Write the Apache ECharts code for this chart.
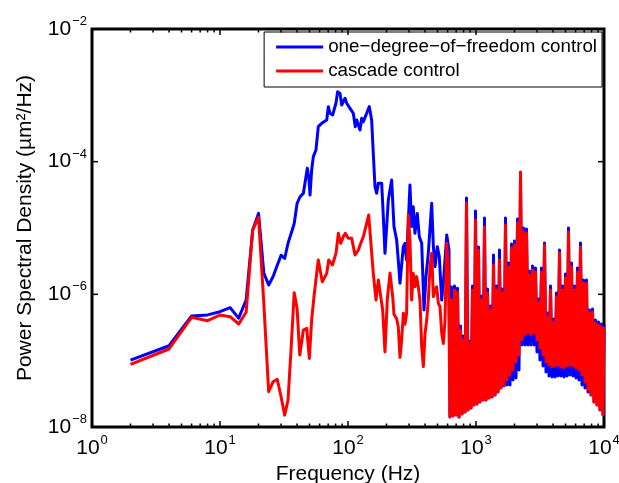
<!DOCTYPE html>
<html><head><meta charset="utf-8">
<script src="https://cdn.jsdelivr.net/npm/echarts@6/dist/echarts.min.js"></script>
<style>html,body{margin:0;padding:0;background:#fff}#c{width:619px;height:483px}</style>
</head><body><div id="c"></div>
<script>
const seriesNames = ['one\u2212degree\u2212of\u2212freedom control', 'cascade control'];
const xTickValues = [1, 10, 100, 1000, 10000];
const xTickSup = ['0', '1', '2', '3', '4'];
const yTickValues = [1e-8, 1e-6, 1e-4, 1e-2];
const yTickSup = ['\u22128', '\u22126', '\u22124', '\u22122'];
const xMinorTicks = [2,3,4,5,6,7,8,9,20,30,40,50,60,70,80,90,200,300,400,500,600,700,800,900,2000,3000,4000,5000,6000,7000,8000,9000];

// one-degree-of-freedom control (blue), low/mid frequencies
const blueFreq = [
  2,4,6,8,10,12,14,16,18,20,
  22,24,26,28,30,32,34,36,38,40,
  42.2,44.8,46.1,48.1,49.6,50.5,52,53.6,56.2,58.6,
  62.3,68.2,70.2,72.3,75.9,80.5,83,86.6,89.3,91.9,
  94.8,97.7,100.5,103.7,110,114,117,120.5,124.2,128,
  131.8,140,146.7,153,157.6,162.5,167.5,172.6,177.8,183.3,
  188.8,194.5,206.5,219.3,228.7,240,247,254.8,270.5,278.6,
  287,304.8,314,323.6,333.4,347.7,360.5,376.5,392.5,406.6,
  424,450.7,464.5,478.6,498.8,516.8,539.5,556,590.6,615];
const bluePsd = [
  1.02e-7,1.68e-7,4.71e-7,4.90e-7,5.47e-7,6.31e-7,4.37e-7,8.20e-7,9.33e-6,1.66e-5,
  2.09e-6,1.38e-6,1.86e-6,2.75e-6,3.89e-6,3.47e-6,5.89e-6,8.32e-6,1.17e-5,2.34e-5,
  2.96e-5,3.33e-5,4.71e-5,7.94e-5,5.28e-5,3.14e-5,7.48e-5,1.19e-4,1.50e-4,3.37e-4,
  3.78e-4,4.25e-4,6.75e-4,5.36e-4,5.06e-4,7.59e-4,1.135e-3,1.07e-3,7.14e-4,8.02e-4,
  9.02e-4,7.59e-4,8.02e-4,6.37e-4,5.36e-4,3.37e-4,4.25e-4,4.50e-4,3.00e-4,4.50e-4,
  4.01e-4,5.36e-4,6.75e-4,4.25e-4,1.34e-4,4.20e-5,3.33e-5,4.71e-5,4.47e-5,4.71e-5,
  1.48e-5,4.15e-6,2.64e-5,5.28e-5,1.05e-5,6.59e-6,3.29e-6,1.47e-6,5.22e-6,5.87e-6,
  3.29e-6,4.45e-5,1.05e-5,2.09e-5,8.32e-6,1.66e-5,7.40e-6,5.87e-6,5.81e-7,1.85e-6,
  4.15e-6,2.36e-5,5.22e-6,2.61e-6,5.22e-6,3.69e-6,8.20e-7,1.47e-6,7.83e-6,4.66e-6];

// cascade control (red), low/mid frequencies
const redFreq = [
  2,4,6,8,10,12,14,16,18,20,
  22,24,26,28,30,32,34,36,38,40,
  42,44.8,47.6,49.9,52,54.2,58.6,63,68.2,70.7,
  75.5,80.6,84,87.7,91.9,95.3,100.5,106.9,113.4,120.5,
  125.7,131.8,140,145.1,157.6,165.5,172.6,177.8,186.6,194.5,
  203,213,223.4,228.7,240,247,254.8,262.6,270.5,278.6,
  287,296,304.8,314,323.6,333.4,344,354,365,376.5,
  387.6,400,412,424,437.3,450.7,464.5,478.6,493,508,
  523.4,539.5,556,572.7,590.6,608.5];
const redPsd = [
  8.81e-8,1.50e-7,4.50e-7,4.00e-7,4.88e-7,4.60e-7,3.57e-7,5.36e-7,9.33e-6,1.45e-5,
  7.24e-7,3.40e-8,4.82e-8,5.25e-8,2.86e-8,1.51e-8,2.55e-8,1.62e-7,1.06e-6,6.15e-7,
  1.22e-7,2.90e-7,3.07e-7,1.08e-7,4.10e-7,9.20e-7,3.29e-6,1.55e-6,2.07e-6,3.29e-6,
  2.77e-6,4.15e-6,8.32e-6,5.87e-6,7.41e-6,8.32e-6,6.98e-6,6.98e-6,3.92e-6,4.66e-6,
  5.87e-6,7.40e-6,1.18e-5,1.57e-5,2.07e-6,8.20e-7,1.64e-6,1.55e-6,5.81e-7,1.36e-7,
  8.71e-7,2.09e-6,9.20e-7,5.01e-7,4.27e-7,3.25e-7,1.12e-7,2.05e-7,5.18e-7,3.55e-7,
  5.18e-7,1.57e-5,6.59e-6,8.20e-7,2.07e-6,1.30e-6,1.85e-6,1.30e-6,8.20e-7,1.62e-7,
  8.11e-8,2.58e-7,4.10e-7,8.20e-7,2.61e-6,4.15e-6,9.20e-7,1.16e-6,1.30e-6,7.31e-7,
  6.52e-7,2.58e-7,1.82e-7,4.10e-7,5.87e-6,2.61e-6];

// high-frequency, densely oscillating part (both series)
const denseFreq = [
  626,644,661,679,698,717,737,757,778,799,
  821,843,866,890,914,939,965,991,1018,1046,
  1075,1104,1134,1165,1197,1230,1264,1298,1334,1370,
  1408,1446,1486,1526,1568,1611,1655,1700,1747,1794,
  1843,1894,1945,1999,2054,2110,2167,2227,2288,2350,
  2415,2481,2549,2618,2690,2764,2839,2917,2996,3079,
  3162,3249,3338,3429,3523,3619,3718,3820,3924,4031,
  4142,4255,4371,4491,4614,4740,4870,5003,5140,5280,
  5425,5573,5726,5882,6043,6209,6378,6553,6732,6916,
  7106,7300,7499,7704,7915,8132,8354,8583,8818,9059,
  9306,9561,9822,10000];
const redDensePsd = [
  1.41e-8,8.20e-7,1.47e-8,1.16e-6,1.52e-8,1.08e-6,1.41e-8,2.90e-7,1.57e-8,2.05e-7,
  1.68e-8,2.38e-5,1.80e-8,1.72e-7,1.93e-8,1.16e-6,2.14e-8,1.32e-5,2.22e-8,4.66e-6,
  2.38e-8,8.20e-7,2.55e-8,1.035e-5,2.55e-8,1.05e-6,2.73e-8,5.81e-7,2.83e-8,2.77e-6,
  3.03e-8,1.16e-6,3.37e-8,3.29e-6,3.87e-8,1.05e-6,4.30e-8,1.11e-5,5.11e-8,2.58e-6,
  6.08e-8,4.99e-6,7.23e-8,5.55e-6,9.55e-8,1.19e-5,1.22e-7,6.98e-5,2.05e-7,8.71e-6,
  2.44e-7,8.40e-6,2.61e-7,1.95e-6,2.44e-7,2.33e-6,2.61e-7,2.17e-6,2.05e-7,7.40e-7,
  1.55e-7,2.17e-6,1.22e-7,5.55e-6,9.55e-8,4.55e-7,8.60e-8,1.16e-6,8.02e-8,3.70e-7,
  8.30e-8,9.12e-7,8.60e-8,4.20e-6,8.02e-8,1.16e-6,7.74e-8,1.76e-6,8.30e-8,8.71e-6,
  8.60e-8,2.58e-6,8.30e-8,1.16e-6,7.74e-8,2.17e-6,7.23e-8,5.16e-6,6.08e-8,1.48e-6,
  4.76e-8,1.48e-6,3.61e-8,5.22e-7,3.03e-8,5.41e-7,2.38e-8,3.70e-7,2.14e-8,3.45e-7,
  1.80e-8,3.21e-7,1.52e-8,3.21e-7];
const blueDensePsd = [
  1.41e-8,1.29e-6,1.47e-8,1.33e-6,1.52e-8,1.24e-6,1.41e-8,3.33e-7,1.57e-8,2.36e-7,
  1.68e-8,2.83e-5,1.80e-8,1.98e-7,1.93e-8,1.33e-6,2.14e-8,1.80e-5,2.22e-8,5.16e-6,
  2.38e-8,9.44e-7,2.55e-8,1.42e-5,2.55e-8,1.20e-6,2.73e-8,6.67e-7,2.83e-8,3.92e-6,
  3.03e-8,1.33e-6,3.37e-8,4.66e-6,3.87e-8,1.20e-6,4.15e-8,1.42e-5,4.30e-8,2.97e-6,
  4.30e-8,5.74e-6,5.11e-8,6.37e-6,5.47e-8,1.37e-5,7.23e-8,6.08e-5,1.72e-7,1.00e-5,
  1.72e-7,9.66e-6,1.72e-7,2.25e-6,1.72e-7,2.67e-6,1.72e-7,2.49e-6,1.35e-7,8.50e-7,
  1.02e-7,2.49e-6,8.30e-8,5.94e-6,6.75e-8,5.22e-7,5.87e-8,1.33e-6,5.68e-8,4.25e-7,
  5.68e-8,1.05e-6,5.87e-8,4.66e-6,5.87e-8,1.33e-6,5.68e-8,2.02e-6,5.87e-8,1.00e-5,
  6.08e-8,2.97e-6,5.87e-8,1.33e-6,5.47e-8,2.49e-6,5.11e-8,5.94e-6,4.30e-8,1.64e-6,
  3.87e-8,1.64e-6,3.37e-8,5.81e-7,3.03e-8,6.01e-7,2.38e-8,4.10e-7,2.14e-8,3.83e-7,
  1.80e-8,3.57e-7,1.52e-8,3.45e-7];

const FONT = '"Liberation Sans", Arial, Helvetica, sans-serif';
const X_MIN = 1, X_MAX = 10000, Y_MIN = 1e-8, Y_MAX = 1e-2;

function pairs(f, v) { return f.map((x, i) => [x, v[i]]); }
const blueData = pairs(blueFreq.concat(denseFreq), bluePsd.concat(blueDensePsd));
const redData = pairs(redFreq.concat(denseFreq), redPsd.concat(redDensePsd));

function nearestIdx(arr, v) {
  let best = -1, bd = 1e9;
  arr.forEach((a, i) => { const d = Math.abs(Math.log10(a) - Math.log10(v)); if (d < bd) { bd = d; best = i; } });
  return bd < 0.01 ? best : -1;
}
const richTick = {
  b: { fontSize: 21, fontFamily: FONT, color: '#000', lineHeight: 28 },
  s: { fontSize: 13, fontFamily: FONT, color: '#000', lineHeight: 10, verticalAlign: 'top', padding: [0, 0, 0, 1] }
};

function xTickRender(len) {
  return function (params, api) {
    const v = api.value(0);
    const b = api.coord([v, Y_MIN]);
    const t = api.coord([v, Y_MAX]);
    return { type: 'group', children: [
      { type: 'line', shape: { x1: b[0], y1: b[1], x2: b[0], y2: b[1] - len }, style: { stroke: '#000', lineWidth: 1.5 } },
      { type: 'line', shape: { x1: t[0], y1: t[1], x2: t[0], y2: t[1] + len }, style: { stroke: '#000', lineWidth: 1.5 } }
    ] };
  };
}
function yTickRender(len) {
  return function (params, api) {
    const v = api.value(1);
    const l = api.coord([X_MIN, v]);
    const r = api.coord([X_MAX, v]);
    return { type: 'group', children: [
      { type: 'line', shape: { x1: l[0], y1: l[1], x2: l[0] + len, y2: l[1] }, style: { stroke: '#000', lineWidth: 1.5 } },
      { type: 'line', shape: { x1: r[0], y1: r[1], x2: r[0] - len, y2: r[1] }, style: { stroke: '#000', lineWidth: 1.5 } }
    ] };
  };
}

const chart = echarts.init(document.getElementById('c'), null, { renderer: 'canvas' });
chart.setOption({
  animation: false,
  backgroundColor: '#fff',
  grid: { left: 92, right: 15, top: 29, bottom: 56, show: true, borderColor: '#000', borderWidth: 3, backgroundColor: 'transparent', containLabel: false, outerBoundsMode: 'none' },
  legend: {
    data: seriesNames, orient: 'vertical', right: 17, top: 32,
    icon: 'rect', itemWidth: 47, itemHeight: 3, itemGap: 4,
    padding: [5, 5, 6, 12], borderColor: '#000', borderWidth: 1, backgroundColor: '#fff',
    selectedMode: false,
    textStyle: { fontSize: 18.8, fontFamily: FONT, color: '#000', lineHeight: 20 }
  },
  xAxis: [{
    type: 'log', logBase: 10, min: X_MIN, max: X_MAX,
    axisLine: { show: false }, axisTick: { show: false }, splitLine: { show: false },
    axisLabel: {
      margin: 7,
      formatter: function (v) { const i = nearestIdx(xTickValues, v); return i < 0 ? '' : '{b|10}{s|' + xTickSup[i] + '}'; },
      rich: richTick
    },
    name: 'Frequency (Hz)', nameLocation: 'middle', nameGap: 35,
    nameTextStyle: { fontSize: 21, fontFamily: FONT, color: '#000' }
  }],
  yAxis: [{
    type: 'log', logBase: 10, min: Y_MIN, max: Y_MAX,
    axisLine: { show: false }, axisTick: { show: false }, splitLine: { show: false },
    axisLabel: {
      margin: 5,
      formatter: function (v) { const i = nearestIdx(yTickValues, v); return i < 0 ? '' : '{b|10}{s|' + yTickSup[i] + '}'; },
      rich: richTick
    },
    name: 'Power Spectral Density (\u00b5m\u00b2/Hz)', nameLocation: 'middle', nameGap: 56, nameRotate: 90,
    nameTextStyle: { fontSize: 21, fontFamily: FONT, color: '#000' }
  }],
  series: [
    { name: seriesNames[0], type: 'line', data: blueData, symbol: 'none', showSymbol: false, clip: true,
      lineStyle: { color: '#0000ff', width: 3, join: 'round' }, itemStyle: { color: '#0000ff' }, z: 3 },
    { name: seriesNames[1], type: 'line', data: redData, symbol: 'none', showSymbol: false, clip: true,
      lineStyle: { color: '#ff0000', width: 3, join: 'round' }, itemStyle: { color: '#ff0000' }, z: 4 },
    { type: 'custom', silent: true, z: 6, renderItem: xTickRender(6), data: xTickValues.map(v => [v, Y_MIN]) },
    { type: 'custom', silent: true, z: 6, renderItem: xTickRender(3.5), data: xMinorTicks.map(v => [v, Y_MIN]) },
    { type: 'custom', silent: true, z: 6, renderItem: yTickRender(6), data: yTickValues.map(v => [X_MIN, v]) }
  ]
});
</script>
</body></html>
